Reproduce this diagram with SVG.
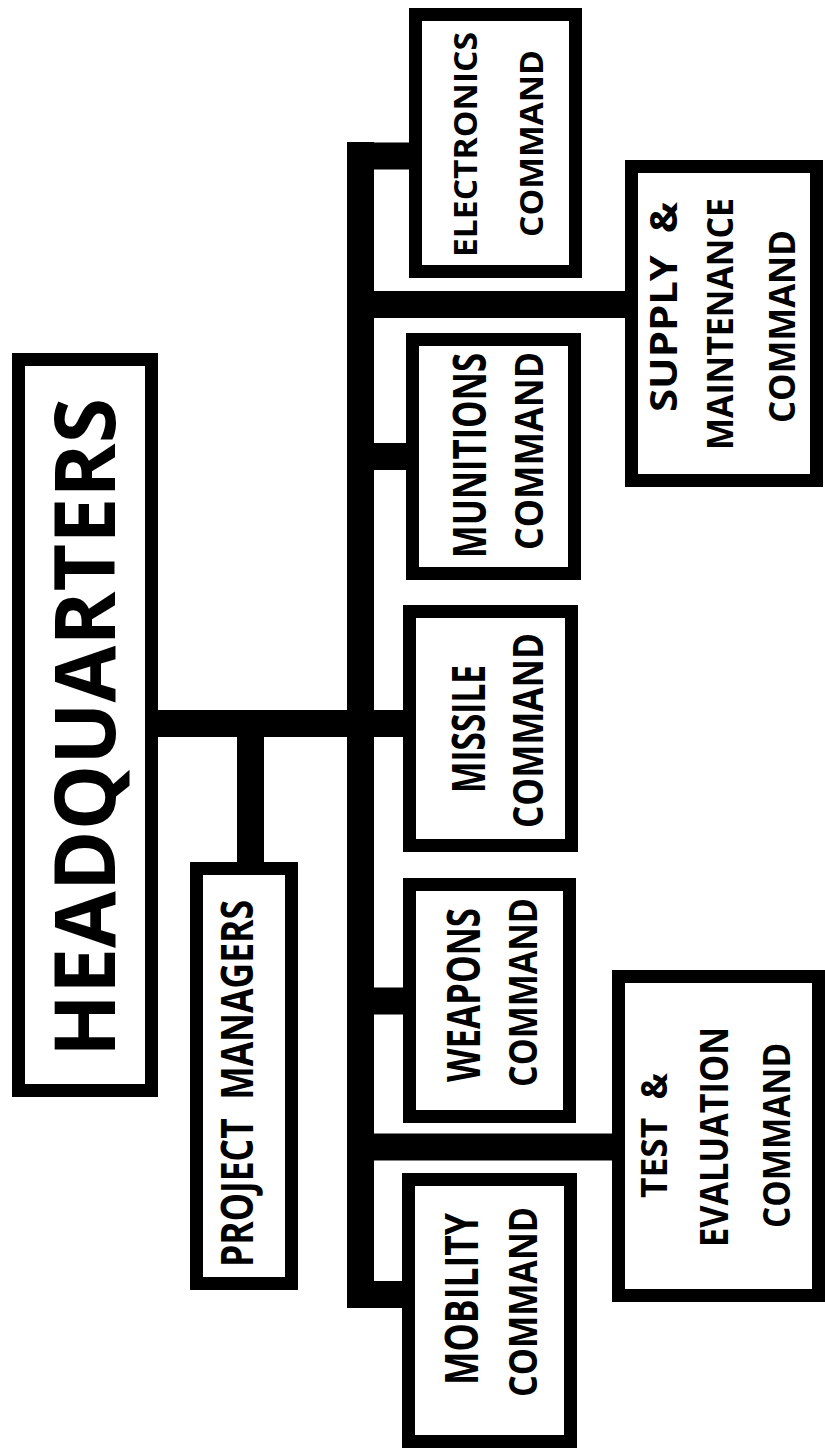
<svg xmlns="http://www.w3.org/2000/svg" width="825" height="1450" viewBox="0 0 825 1450">
<style>
.box{fill:#fff;stroke:#000;stroke-width:13}
.conn{stroke:#000;stroke-width:27;fill:none;stroke-linecap:butt}
text{font-family:"Open Sans","Liberation Sans",sans-serif;font-weight:bold;fill:#000;text-anchor:middle}
</style>
<rect x="0" y="0" width="825" height="1450" fill="#fff"/>
<g id="connectors">
<line class="conn" x1="360.5" y1="142" x2="360.5" y2="1308"/>
<line class="conn" x1="347" y1="156" x2="410" y2="156"/>
<line class="conn" x1="347" y1="304.5" x2="626" y2="304.5"/>
<line class="conn" x1="347" y1="456.5" x2="407" y2="456.5"/>
<line class="conn" x1="158" y1="723.5" x2="404" y2="723.5"/>
<line class="conn" x1="250.5" y1="710" x2="250.5" y2="863"/>
<line class="conn" x1="347" y1="1001" x2="404" y2="1001"/>
<line class="conn" x1="347" y1="1147" x2="613" y2="1147"/>
<line class="conn" x1="347" y1="1294.5" x2="403" y2="1294.5"/>
</g>
<g id="headquarters">
<rect class="box" x="18.5" y="359.5" width="133" height="731"/>
<text transform="translate(115,727.5) rotate(-90)" font-size="84" textLength="659" lengthAdjust="spacingAndGlyphs">HEADQUARTERS</text>
</g>
<g id="project-managers">
<rect class="box" x="196.5" y="868.5" width="95" height="415"/>
<text xml:space="preserve" transform="translate(253,1083.5) rotate(-90)" font-size="44" textLength="367" lengthAdjust="spacingAndGlyphs">PROJECT  MANAGERS</text>
</g>
<g id="electronics">
<rect class="box" x="415.5" y="14.5" width="160" height="257"/>
<text transform="translate(477,144.5) rotate(-90)" font-size="32" textLength="225" lengthAdjust="spacingAndGlyphs">ELECTRONICS</text>
<text transform="translate(543,143.5) rotate(-90)" font-size="33" textLength="187" lengthAdjust="spacingAndGlyphs">COMMAND</text>
</g>
<g id="supply-maintenance">
<rect class="box" x="631.5" y="166.5" width="185" height="314"/>
<text xml:space="preserve" transform="translate(677,307) rotate(-90)" font-size="37" textLength="210" lengthAdjust="spacingAndGlyphs">SUPPLY  &amp;</text>
<text transform="translate(733,324) rotate(-90)" font-size="35" textLength="252" lengthAdjust="spacingAndGlyphs">MAINTENANCE</text>
<text transform="translate(795,326.5) rotate(-90)" font-size="35" textLength="193" lengthAdjust="spacingAndGlyphs">COMMAND</text>
</g>
<g id="munitions">
<rect class="box" x="412.5" y="339.5" width="162" height="234"/>
<text transform="translate(486,455.5) rotate(-90)" font-size="46" textLength="205" lengthAdjust="spacingAndGlyphs">MUNITIONS</text>
<text transform="translate(543,451) rotate(-90)" font-size="39" textLength="198" lengthAdjust="spacingAndGlyphs">COMMAND</text>
</g>
<g id="missile">
<rect class="box" x="409.5" y="611.5" width="162" height="234"/>
<text transform="translate(485,729) rotate(-90)" font-size="47" textLength="128" lengthAdjust="spacingAndGlyphs">MISSILE</text>
<text transform="translate(543,730.5) rotate(-90)" font-size="42" textLength="195" lengthAdjust="spacingAndGlyphs">COMMAND</text>
</g>
<g id="weapons">
<rect class="box" x="409.5" y="884.5" width="160" height="232"/>
<text transform="translate(480,995) rotate(-90)" font-size="46" textLength="174" lengthAdjust="spacingAndGlyphs">WEAPONS</text>
<text transform="translate(537,992.5) rotate(-90)" font-size="39" textLength="189" lengthAdjust="spacingAndGlyphs">COMMAND</text>
</g>
<g id="test-evaluation">
<rect class="box" x="618.5" y="976.5" width="200" height="319"/>
<text xml:space="preserve" transform="translate(667,1135.5) rotate(-90)" font-size="36" textLength="125" lengthAdjust="spacingAndGlyphs">TEST  &amp;</text>
<text transform="translate(728,1137) rotate(-90)" font-size="39" textLength="220" lengthAdjust="spacingAndGlyphs">EVALUATION</text>
<text transform="translate(790,1135.5) rotate(-90)" font-size="38" textLength="185" lengthAdjust="spacingAndGlyphs">COMMAND</text>
</g>
<g id="mobility">
<rect class="box" x="408.5" y="1179.5" width="162" height="262"/>
<text transform="translate(478,1299) rotate(-90)" font-size="46" textLength="172" lengthAdjust="spacingAndGlyphs">MOBILITY</text>
<text transform="translate(537,1302) rotate(-90)" font-size="39" textLength="190" lengthAdjust="spacingAndGlyphs">COMMAND</text>
</g>
</svg>
